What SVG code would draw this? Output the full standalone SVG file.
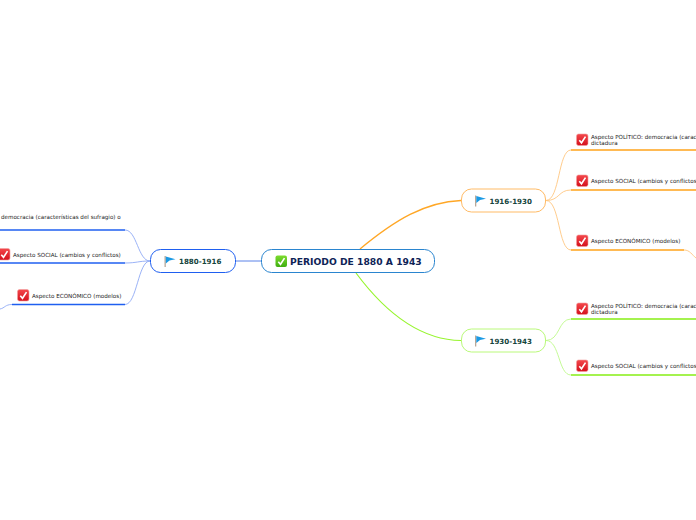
<svg xmlns="http://www.w3.org/2000/svg" width="696" height="520" viewBox="0 0 696 520">
<defs>
<linearGradient id="r" x1="0" y1="0" x2="0" y2="1"><stop offset="0" stop-color="#f4484c"/><stop offset="1" stop-color="#d4101c"/></linearGradient>
<linearGradient id="g" x1="0" y1="0" x2="0" y2="1"><stop offset="0" stop-color="#7ddc2e"/><stop offset="1" stop-color="#3fae10"/></linearGradient>
<g id="chk"><rect x="0" y="0" width="11.5" height="11.5" rx="2" fill="url(#r)" stroke="#f2a0a0" stroke-width=".6"/><path d="M2.8 6.200L5 8.800L9 2.600" fill="none" stroke="#fff" stroke-width="1.600"/></g>
<g id="flag"><rect x="0" y="0" width="1.300" height="11" fill="#b9a898"/><path d="M1.300 .6L11 3.200L5 4.600L1.300 7.400Z" fill="#1b9ae4"/></g>
</defs>
<style>
text{font-family:"DejaVu Sans",Verdana,sans-serif}
.l{font-size:5.6px;fill:#222}
.b{font-size:7.1px;font-weight:bold;fill:#14443c}
.t{font-size:9.2px;font-weight:bold;fill:#0e2356}
.n{fill:#fff;stroke-width:1}
</style>
<g id="connectors" fill="none">
<path d="M235 261H262" stroke="#5b82e8" stroke-width="1"/>
<path d="M360 249C395 220 425 202 461 200.500" stroke="#ffa726" stroke-width="1.300"/>
<path d="M356 273C385 312 420 340 461 340.500" stroke="#97f52e" stroke-width="1.200"/>
<g stroke="#8fa9f5" stroke-width=".9">
<path d="M150 261C138 261 137 230 125 230"/>
<path d="M150 261C138 261 137 263 125 263"/>
<path d="M150 261C138 261 137 304.500 125 304.500"/>
<path d="M12 304.500C5 304.500 5 308 0 309"/>
</g>
<g stroke="#1f5ff0" stroke-width="1.500">
<path d="M0 230H125"/><path d="M0 263H125"/><path d="M12 304.500H125"/>
</g>
<g stroke="#ffc680" stroke-width=".9">
<path d="M546 200.500C560 200.500 558 150 571 150"/>
<path d="M546 200.500C560 200.500 558 190 571 190"/>
<path d="M546 200.500C560 200.500 558 250 571 250"/>
<path d="M684 250C690 250 692 255 696 258"/>
</g>
<g stroke="#ffa31a" stroke-width="1.500">
<path d="M571 150H696"/><path d="M571 190H696"/><path d="M571 250H684"/>
</g>
<g stroke="#bdf98a" stroke-width=".9">
<path d="M546 340.500C560 340.500 558 319 571 319"/>
<path d="M546 340.500C560 340.500 558 375 571 375"/>
</g>
<g stroke="#86ee14" stroke-width="1.500">
<path d="M571 319H696"/><path d="M571 375H696"/>
</g>
</g>
<g id="root"><rect class="n" x="261.500" y="249.500" width="173" height="23" rx="10" stroke="#2a85cf"/>
<g transform="translate(275.500,255.500)"><rect width="11.500" height="11.500" rx="2" fill="url(#g)"/><path d="M2.800 6.200L5 8.800L9 2.600" fill="none" stroke="#fff" stroke-width="1.600"/></g>
<text class="t" x="290" y="265">PERIODO DE 1880 A 1943</text></g>
<g id="n1880"><rect class="n" x="150.500" y="249.500" width="85" height="23" rx="10" stroke="#1f5ff0"/>
<use href="#flag" x="164.500" y="256"/><text class="b" x="179" y="264">1880-1916</text></g>
<g id="n1916"><rect class="n" x="461.500" y="189" width="84" height="23" rx="10" stroke="#ffbb66"/>
<use href="#flag" x="475" y="195.500"/><text class="b" x="489.500" y="204">1916-1930</text></g>
<g id="n1930"><rect class="n" x="461.500" y="329" width="84" height="23" rx="10" stroke="#baf97a"/>
<use href="#flag" x="475" y="335.500"/><text class="b" x="489.500" y="344">1930-1943</text></g>
<g id="l1"><text class="l" x="1" y="219">democracia (características del sufragio) o</text></g>
<g id="l2"><use href="#chk" x="-1.500" y="248.500"/><text class="l" x="13" y="257">Aspecto SOCIAL (cambios y conflictos)</text></g>
<g id="l3"><use href="#chk" x="17.500" y="289.500"/><text class="l" x="32" y="298">Aspecto ECONÓMICO (modelos)</text></g>
<g id="r1"><use href="#chk" x="576.500" y="134"/><text class="l" x="591" y="138.500">Aspecto POLÍTICO: democracia (carac</text><text class="l" x="591" y="145">dictadura</text></g>
<g id="r2"><use href="#chk" x="576.500" y="175"/><text class="l" x="591" y="182.500">Aspecto SOCIAL (cambios y conflictos</text></g>
<g id="r3"><use href="#chk" x="576.500" y="235"/><text class="l" x="591" y="242.500">Aspecto ECONÓMICO (modelos)</text></g>
<g id="g1"><use href="#chk" x="576.500" y="303"/><text class="l" x="591" y="307.500">Aspecto POLÍTICO: democracia (carac</text><text class="l" x="591" y="314">dictadura</text></g>
<g id="g2"><use href="#chk" x="576.500" y="360"/><text class="l" x="591" y="367.500">Aspecto SOCIAL (cambios y conflictos</text></g>
</svg>
